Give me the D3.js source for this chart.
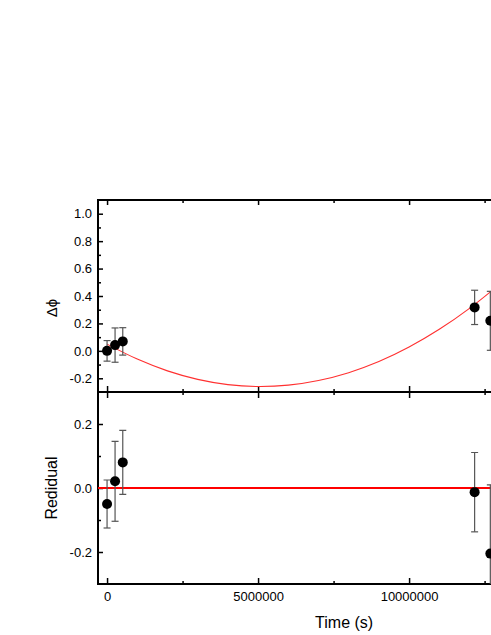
<!DOCTYPE html>
<html lang="en">
<head>
    <meta charset="UTF-8">
    <title>Phase drift fit</title>
    <script src="https://cdn.jsdelivr.net/npm/d3@7"></script>
    <style>
        body { margin: 0; background: #fff; }
        svg { display: block; font-family: "Liberation Sans", Arial, sans-serif; }
        .tick text { font-size: 13px; fill: #000; font-family: "Liberation Sans", Arial, sans-serif; }
        .tick line { stroke: #000; stroke-width: 1.5; }
    </style>
</head>
<body>
<div id="chart"></div>

<script>
    // Measurement times (s)
    const timeS = [0, 265000, 520000, 12170000, 12690000];

    // Upper panel: phase shift and errors
    const dPhi = [0.0, 0.042, 0.069, 0.317, 0.219];
    const dPhiErr = [0.075, 0.125, 0.10, 0.125, 0.215];

    // Lower panel: residuals and errors
    const residual = [-0.05, 0.021, 0.08, -0.013, -0.205];
    const residualErr = [0.075, 0.125, 0.10, 0.124, 0.215];

    // Fit curve
    const fitT = [0, 1e6, 2e6, 3e6, 4e6, 5e6, 6e6, 7e6, 8e6, 9e6, 10e6, 11e6, 12e6, 13e6];
    const fitPhi = [0.049, -0.060, -0.146, -0.208, -0.246, -0.260, -0.250, -0.216, -0.159, -0.078, 0.028, 0.157, 0.310, 0.486];

    // Tick values
    const xMajor = [0, 5000000, 10000000, 15000000];
    const xMinor = [2500000, 7500000, 12500000];
    const xLabels = [0, 5000000, 10000000];
    const phiMajor = [-0.2, 0.0, 0.2, 0.4, 0.6, 0.8, 1.0];
    const phiMinor = [-0.1, 0.1, 0.3, 0.5, 0.7, 0.9];
    const resMajor = [-0.2, 0.0, 0.2];
    const resMinor = [-0.1, 0.1];

    const width = 491, height = 635;
    const left = 98, right = 590.3;
    const upTop = 200, mid = 392, lowBottom = 584;

    const svg = d3.select('#chart').append('svg')
        .attr('width', width)
        .attr('height', height);

    const x = d3.scaleLinear().domain([-300000, 16000000]).range([left, right]);
    const yUp = d3.scaleLinear().domain([-0.3, 1.1]).range([mid, upTop]);
    const yLow = d3.scaleLinear().domain([-0.3, 0.3]).range([lowBottom, mid]);

    const fmt1 = v => v.toFixed(1);

    const defs = svg.append('defs');
    defs.append('clipPath').attr('id', 'clipUp').append('rect')
        .attr('x', left).attr('y', upTop).attr('width', right - left).attr('height', mid - upTop);
    defs.append('clipPath').attr('id', 'clipLow').append('rect')
        .attr('x', left).attr('y', mid).attr('width', right - left).attr('height', lowBottom - mid);

    // axis helper: builds an axis, hides its domain path
    const addAxis = (axis, tx, ty) => {
        const g = svg.append('g').attr('transform', `translate(${tx},${ty})`).call(axis);
        g.select('.domain').remove();
        return g;
    };

    // ---- upper panel axes
    addAxis(d3.axisLeft(yUp).tickValues(phiMajor).tickSize(-5).tickPadding(6).tickFormat(fmt1), left, 0);
    addAxis(d3.axisLeft(yUp).tickValues(phiMinor).tickSize(-3).tickFormat(''), left, 0);
    addAxis(d3.axisTop(x).tickValues(xMajor).tickSize(-5).tickFormat(''), 0, upTop);
    addAxis(d3.axisTop(x).tickValues(xMinor).tickSize(-3).tickFormat(''), 0, upTop);
    addAxis(d3.axisBottom(x).tickValues(xMajor).tickSize(-6).tickFormat(''), 0, mid);
    addAxis(d3.axisBottom(x).tickValues(xMinor).tickSize(-3).tickFormat(''), 0, mid);

    // ---- lower panel axes
    addAxis(d3.axisLeft(yLow).tickValues(resMajor).tickSize(-5).tickPadding(6).tickFormat(fmt1), left, 0);
    addAxis(d3.axisLeft(yLow).tickValues(resMinor).tickSize(-3).tickFormat(''), left, 0);
    addAxis(d3.axisTop(x).tickValues(xMajor).tickSize(-6).tickFormat(''), 0, mid);
    addAxis(d3.axisTop(x).tickValues(xMinor).tickSize(-3).tickFormat(''), 0, mid);
    addAxis(d3.axisBottom(x).tickValues(xMajor).tickSize(-6).tickFormat(''), 0, lowBottom);
    addAxis(d3.axisBottom(x).tickValues(xMinor).tickSize(-3).tickFormat(''), 0, lowBottom);
    addAxis(d3.axisBottom(x).tickValues(xLabels).tickSize(0).tickPadding(8).tickFormat(d3.format('d')), 0, lowBottom);

    // ---- frames
    [[upTop, mid], [mid, lowBottom]].forEach(([t, b]) => {
        svg.append('rect')
            .attr('x', left).attr('y', t)
            .attr('width', right - left).attr('height', b - t)
            .attr('fill', 'none').attr('stroke', '#000').attr('stroke-width', 2);
    });

    // ---- upper panel: fit curve
    const up = svg.append('g').attr('clip-path', 'url(#clipUp)');
    const fitLine = d3.line()
        .x((d, i) => x(fitT[i]))
        .y(d => yUp(d))
        .curve(d3.curveCatmullRom);
    up.append('path')
        .attr('d', fitLine(fitPhi))
        .attr('fill', 'none')
        .attr('stroke', '#ff3030')
        .attr('stroke-width', 1.1);

    // ---- lower panel: zero line
    const low = svg.append('g').attr('clip-path', 'url(#clipLow)');
    low.append('line')
        .attr('x1', left).attr('x2', right)
        .attr('y1', yLow(0)).attr('y2', yLow(0))
        .attr('stroke', '#ff0000').attr('stroke-width', 2);

    // error bars + points
    const drawPoints = (g, y, vals, errs) => {
        const cap = 3.5;
        const eb = g.append('g').attr('stroke', '#555').attr('stroke-width', 1.2);
        timeS.forEach((t, i) => {
            const cx = x(t), top = y(vals[i] + errs[i]), bot = y(vals[i] - errs[i]);
            eb.append('line').attr('x1', cx).attr('x2', cx).attr('y1', top).attr('y2', bot);
            eb.append('line').attr('x1', cx - cap).attr('x2', cx + cap).attr('y1', top).attr('y2', top);
            eb.append('line').attr('x1', cx - cap).attr('x2', cx + cap).attr('y1', bot).attr('y2', bot);
        });
        g.selectAll('circle.pt')
            .data(vals)
            .enter()
            .append('circle')
            .attr('class', 'pt')
            .attr('cx', (d, i) => x(timeS[i]))
            .attr('cy', d => y(d))
            .attr('r', 5)
            .attr('fill', '#000');
    };
    drawPoints(up, yUp, dPhi, dPhiErr);
    drawPoints(low, yLow, residual, residualErr);

    // ---- axis titles
    svg.append('text')
        .attr('transform', `translate(57,${(upTop + mid) / 2 + 12}) rotate(-90)`)
        .attr('text-anchor', 'middle')
        .attr('font-size', 15)
        .text('\u0394\u03D5');

    svg.append('text')
        .attr('transform', `translate(57,${(mid + lowBottom) / 2}) rotate(-90)`)
        .attr('text-anchor', 'middle')
        .attr('font-size', 16)
        .text('Redidual');

    svg.append('text')
        .attr('x', (left + right) / 2)
        .attr('y', 628)
        .attr('text-anchor', 'middle')
        .attr('font-size', 16)
        .text('Time (s)');
</script>
</body>
</html>
